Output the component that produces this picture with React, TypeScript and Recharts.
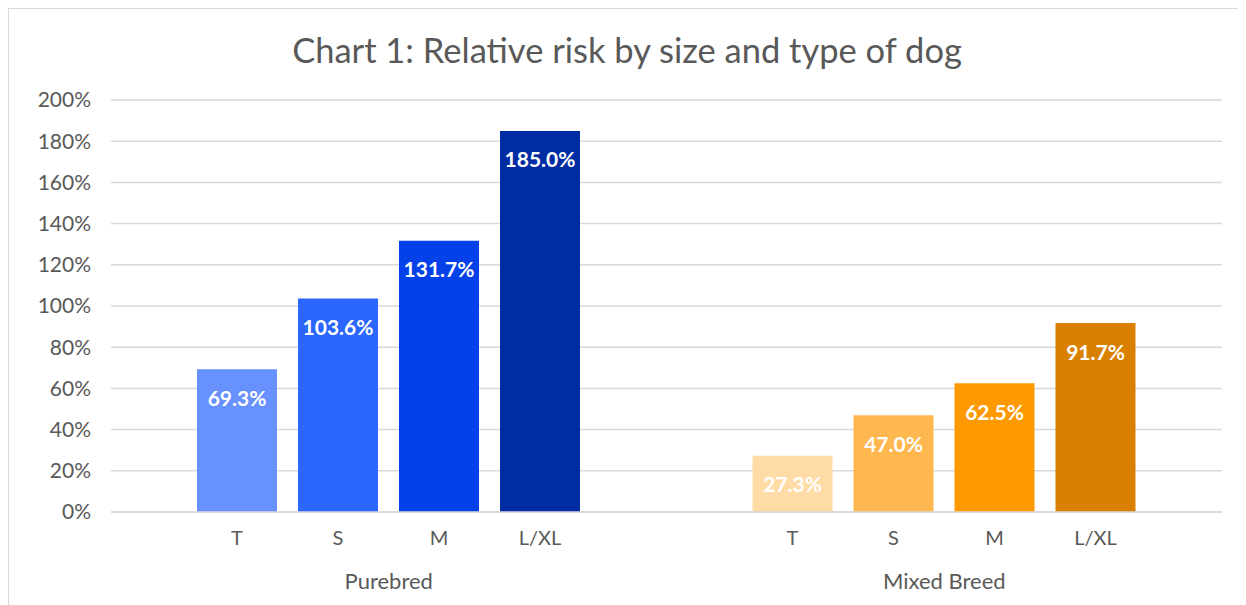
import React from 'react';
import { BarChart, Bar, Cell, XAxis, YAxis, CartesianGrid, LabelList } from 'recharts';

const groups = ['Purebred', 'Mixed Breed'];
const sizes = ['T', 'S', 'M', 'L/XL'];
const purebredRisk = [0.693, 1.036, 1.317, 1.85];
const mixedRisk = [0.273, 0.47, 0.625, 0.917];
const yTicks = [0, 0.2, 0.4, 0.6, 0.8, 1.0, 1.2, 1.4, 1.6, 1.8, 2.0];

const purebredColors = ['#6691FF', '#2B66FF', '#0541E8', '#002CA3'];
const mixedColors = ['#FFDBA6', '#FFB84F', '#FF9900', '#D98000'];

const FONT = 'Lato, "Open Sans", sans-serif';
const TEXT = '#595959';

const data = groups.map((g, gi) => {
    const row: any = { group: g };
    const vals = gi === 0 ? purebredRisk : mixedRisk;
    sizes.forEach((s, i) => {
        row['s' + i] = vals[i];
    });
    return row;
});

const GroupTick = (props: any) => {
    const { x, y, payload } = props;
    return (
        <text x={x} y={y + 60} textAnchor="middle" dominantBaseline="central"
            fill={TEXT} fontSize={22} fontFamily={FONT}>
            {payload.value}
        </text>
    );
};

const makeSizeLabel = (name: string) => (props: any) => {
    const { x, y, width, height } = props;
    return (
        <text x={x + width / 2} y={y + height + 25} textAnchor="middle" dominantBaseline="central"
            fill={TEXT} fontSize={20} fontFamily={FONT}>
            {name}
        </text>
    );
};

const ValueLabel = (props: any) => {
    const { x, y, width, value } = props;
    return (
        <text x={x + width / 2} y={y + 28} textAnchor="middle" dominantBaseline="central"
            fill="#ffffff" fontSize={21} fontWeight={700} fontFamily={FONT}>
            {(value * 100).toFixed(1) + '%'}
        </text>
    );
};

export default function App() {
    return (
        <div style={{ position: 'relative', width: 1236, height: 596, border: '1px solid #d9d9d9', background: '#fff' }}>
            <div style={{
                position: 'absolute', left: 0, width: 1236, top: 21, textAlign: 'center',
                fontFamily: FONT, fontSize: 34.5, color: TEXT, lineHeight: '40px'
            }}>
                Chart 1: Relative risk by size and type of dog
            </div>
            <BarChart width={1236} height={596} data={data}
                margin={{ top: 91, right: 23, left: 0, bottom: 0 }}
                barSize={80} barGap={21}>
                <CartesianGrid vertical={false} stroke="#d9d9d9" strokeWidth={1.5} />
                <XAxis dataKey="group" height={93} tickLine={false} axisLine={{ stroke: '#d9d9d9', strokeWidth: 1.5 }}
                    tick={<GroupTick />} interval={0} />
                <YAxis width={102} domain={[0, 2]} ticks={yTicks} tickLine={false} axisLine={false}
                    tickMargin={14} tickFormatter={(v: number) => Math.round(v * 100) + '%'}
                    tick={{ fill: TEXT, fontSize: 21, fontFamily: FONT }} />
                {sizes.map((s, i) => (
                    <Bar key={s} dataKey={'s' + i} isAnimationActive={false}>
                        {data.map((_, gi) => (
                            <Cell key={gi} fill={gi === 0 ? purebredColors[i] : mixedColors[i]} />
                        ))}
                        <LabelList dataKey={'s' + i} content={<ValueLabel />} />
                        <LabelList dataKey={'s' + i} content={makeSizeLabel(s)} />
                    </Bar>
                ))}
            </BarChart>
        </div>
    );
}
